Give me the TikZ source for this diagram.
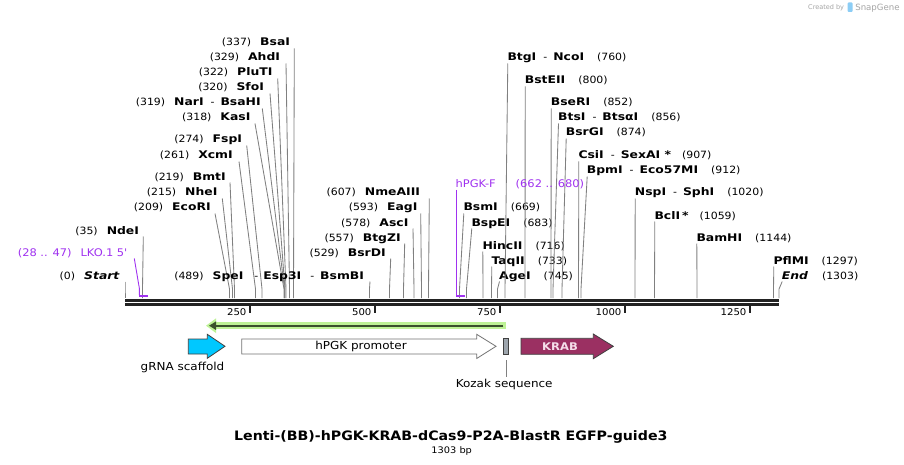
\documentclass[tikz,border=0pt]{standalone}
\usepackage{fontspec}
\setmainfont{DejaVu Sans}
\usetikzlibrary{arrows.meta}
\newfontfamily\fn[FakeStretch=1.09,Ligatures=TeXOff]{DejaVu Sans}
\newfontfamily\fb[FakeStretch=1.18,Ligatures=TeXOff]{DejaVu Sans}
\definecolor{sitegray}{RGB}{128,128,128}
\definecolor{primerpurple}{RGB}{160,50,240}
\definecolor{bbcol}{RGB}{34,34,34}
\definecolor{scaffcol}{RGB}{0,200,255}
\definecolor{krabcol}{RGB}{155,48,98}
\definecolor{krabtxt}{RGB}{245,222,234}
\definecolor{kozakcol}{RGB}{158,166,174}
\definecolor{lgreen}{RGB}{190,242,150}
\definecolor{dgreen}{RGB}{58,80,44}
\definecolor{sgtxt}{RGB}{165,165,165}
\definecolor{sglogo}{RGB}{140,205,245}
\newcommand\rpos[1]{{\fn\fontsize{10}{12}\selectfont #1}}
\newcommand\rnm[1]{{\fb\bfseries\fontsize{10.5}{12}\selectfont #1}}
\newcommand\rsep{\hspace{7pt}\rpos{-}\hspace{6pt}}
\newcommand\rgapL{\hspace{9pt}}
\newcommand\rgapR{\hspace{13pt}}
\newcommand\pp[1]{{\fn\fontsize{10.5}{12}\selectfont\color{primerpurple}#1}}
\tikzset{
  lbl/.style={inner sep=0pt, outer sep=0pt},
  siteline/.style={draw=sitegray, line width=0.85pt},
  primerline/.style={draw=primerpurple, line width=0.9pt},
  primerbar/.style={draw=primerpurple, line width=2pt},
  bbline/.style={draw=bbcol, line width=2.4pt},
  tickmark/.style={draw=bbcol, line width=1.7pt},
  feat/.style={draw=black!75, line width=0.8pt},
}
% left label: id, text end x, line top x, baseline y, site x, content
\newcommand\Lsite[6]{%
  \node[lbl,anchor=base east] (#1) at (#2,#4) {#6};
  \coordinate (#1-t) at (#3,{#4+2.5});
  \coordinate (#1-m) at (#5,289);
  \coordinate (#1-s) at (#5,298);
  \draw[siteline] (#1-t) -- (#1-m) -- (#1-s);
}
% right label: id, text start x, baseline y, site x, content
\newcommand\Rsite[5]{%
  \node[lbl,anchor=base west] (#1) at ({#2-0.8},#3) {#5};
  \coordinate (#1-t) at ({#2-0.5},{#3+2.5});
  \coordinate (#1-m) at (#4,289);
  \coordinate (#1-s) at (#4,298);
  \draw[siteline] (#1-t) -- (#1-m) -- (#1-s);
}
\begin{document}
\begin{tikzpicture}[x=1pt,y=-1pt]
\useasboundingbox (0,0) rectangle (904,465);
\fill[white] (0,0) rectangle (904,465);

% SnapGene credit
\node[lbl,anchor=base east] (cby) at (844,10) {\fontsize{6.5}{8}\selectfont\color{sgtxt}Created by};
\fill[sglogo,rounded corners=1pt] (847.5,2.5) rectangle (852.5,12);
\node[lbl,anchor=base west] (sg) at (855.3,11) {\fontsize{8.6}{10}\selectfont\color{sgtxt}SnapGene};

% backbone
\coordinate (bbL) at (125,300.3);
\coordinate (bbR) at (779,300.3);
\coordinate (bbL2) at (125,304.5);
\coordinate (bbR2) at (779,304.5);
\draw[bbline] (bbL) -- (bbR);
\draw[bbline] (bbL2) -- (bbR2);

% ticks
\foreach \t/\v in {250/250,375/500,500/750,625/1000,750/1250}{
  \coordinate (tk\v a) at (\t,305.5);
  \coordinate (tk\v b) at (\t,312.6);
  \draw[tickmark] (tk\v a) -- (tk\v b);
  \node[lbl,anchor=base east] (tl\v) at ({\t-3.6},315.7) {\fn\fontsize{9.3}{11}\selectfont \v};
}

% left-side labels
\Lsite{bsai}{290}{294.3}{46}{293.5}{\rpos{(337)}\rgapL\rnm{BsaI}}
\Lsite{ahdi}{280}{286}{61}{289.5}{\rpos{(329)}\rgapL\rnm{AhdI}}
\Lsite{pluti}{272.4}{277.7}{76}{286}{\rpos{(322)}\rgapL\rnm{PluTI}}
\Lsite{sfoi}{264}{270}{91}{285}{\rpos{(320)}\rgapL\rnm{SfoI}}
\Lsite{nari}{260.7}{262.3}{106}{284.5}{\rpos{(319)}\rgapL\rnm{NarI}\rsep\rnm{BsaHI}}
\Lsite{kasi}{250.4}{255}{121}{284}{\rpos{(318)}\rgapL\rnm{KasI}}
\Lsite{fspi}{242}{246.7}{143}{262}{\rpos{(274)}\rgapL\rnm{FspI}}
\Lsite{xcmi}{232.7}{239}{159}{255.5}{\rpos{(261)}\rgapL\rnm{XcmI}}
\Lsite{bmti}{225.7}{230}{180}{234.5}{\rpos{(219)}\rgapL\rnm{BmtI}}
\Lsite{nhei}{217.4}{222.3}{196}{232.5}{\rpos{(215)}\rgapL\rnm{NheI}}
\Lsite{ecori}{210.7}{215}{211}{229.5}{\rpos{(209)}\rgapL\rnm{EcoRI}}
\Lsite{ndei}{139}{143.3}{234}{142.5}{\rpos{(35)}\rgapL\rnm{NdeI}}
\Lsite{start}{119.4}{125}{279}{125}{\rpos{(0)}\rgapL\rnm{\itshape Start}}
\Lsite{nmeaiii}{420}{429.3}{196}{428.5}{\rpos{(607)}\rgapL\rnm{NmeAIII}}
\Lsite{eagi}{417.4}{420.7}{211}{421.5}{\rpos{(593)}\rgapL\rnm{EagI}}
\Lsite{asci}{408.4}{413}{226}{414}{\rpos{(578)}\rgapL\rnm{AscI}}
\Lsite{btgzi}{400.7}{404.7}{241}{403.5}{\rpos{(557)}\rgapL\rnm{BtgZI}}
\Lsite{bsrdi}{385.7}{390.7}{256}{389.5}{\rpos{(529)}\rgapL\rnm{BsrDI}}
\Lsite{bsmbi}{364}{370}{279}{369.5}{\rpos{(489)}\rgapL\rnm{SpeI}\hspace{11pt}\rpos{-}\hspace{5pt}\rnm{Esp3I}\hspace{9pt}\rpos{-}\hspace{6pt}\rnm{BsmBI}}

% right-side labels
\Rsite{bsmi}{464.3}{211}{459.5}{\rnm{BsmI}\rgapR\rpos{(669)}}
\Rsite{bspei}{472.3}{226}{466.5}{\rnm{BspEI}\rgapR\rpos{(683)}}
\Rsite{hincii}{483.3}{249}{483}{\rnm{HincII}\rgapR\rpos{(716)}}
\Rsite{taqii}{492.3}{264}{491.5}{\rnm{TaqII}\rgapR\rpos{(733)}}
\Rsite{agei}{500}{279}{497.5}{\rnm{AgeI}\rgapR\rpos{(745)}}
\Rsite{btgi}{508.3}{61}{505}{\rnm{BtgI}\rsep\rnm{NcoI}\rgapR\rpos{(760)}}
\Rsite{bsteii}{525.7}{84}{525}{\rnm{BstEII}\rgapR\rpos{(800)}}
\Rsite{bseri}{551.7}{106}{551}{\rnm{BseRI}\rgapR\rpos{(852)}}
\Rsite{btsi}{559}{121}{553}{\rnm{BtsI}\rsep\rnm{BtsαI}\rgapR\rpos{(856)}}
\Rsite{bsrgi}{566.7}{136}{562}{\rnm{BsrGI}\rgapR\rpos{(874)}}
\Rsite{csii}{579.3}{159}{578.5}{\rnm{CsiI}\rsep\rnm{SexAI *}\hspace{11pt}\rpos{(907)}}
\Rsite{bpmi}{587.7}{174}{581}{\rnm{BpmI}\rsep\rnm{Eco57MI}\rgapR\rpos{(912)}}
\Rsite{nspi}{635.7}{196}{635}{\rnm{NspI}\rsep\rnm{SphI}\rgapR\rpos{(1020)}}
\Rsite{bcli}{655.3}{219}{654.5}{\rnm{BclI\hspace{2pt}*}\hspace{11pt}\rpos{(1059)}}
\Rsite{bamhi}{697.3}{241}{697}{\rnm{BamHI}\rgapR\rpos{(1144)}}
\Rsite{pflmi}{774.3}{264}{773.5}{\rnm{PflMI}\rgapR\rpos{(1297)}}
\Rsite{end}{782.7}{279}{779}{\rnm{\itshape End}\hspace{14pt}\rpos{(1303)}}

% primers
\node[lbl,anchor=base east] (lko) at (127.4,256) {\pp{(28 .. 47)}\hspace{9pt}\pp{LKO.1 5'}};
\coordinate (lko-t) at (134.3,258.5);
\coordinate (lko-m) at (139.3,288);
\coordinate (lko-s) at (139.3,295);
\coordinate (lko-a) at (139,295.8);
\coordinate (lko-b) at (148.3,295.8);
\draw[primerline] (lko-t) -- (lko-m) -- (lko-s);
\draw[primerbar] (lko-a) -- (lko-b);

\node[lbl,anchor=base west] (hpgkf) at (455.7,188) {\pp{hPGK-F}\hspace{20pt}\pp{(662 .. 680)}};
\coordinate (hpgkf-t) at (456.6,190);
\coordinate (hpgkf-s) at (456.6,295);
\coordinate (hpgkf-a) at (456,295.8);
\coordinate (hpgkf-b) at (465.3,295.8);
\draw[primerline] (hpgkf-t) -- (hpgkf-s);
\draw[primerbar] (hpgkf-a) -- (hpgkf-b);

% green reverse arrow
\coordinate (gaR) at (506,325.7);
\coordinate (gaL) at (206,325.7);
\coordinate (gaR2) at (503.3,325.7);
\coordinate (gaL2) at (209,325.7);
\draw[lgreen, line width=6.5pt, -{Triangle[length=10pt,width=14pt]}] (gaR) -- (gaL);
\draw[dgreen, line width=2.3pt, -{Triangle[length=7pt,width=8pt]}] (gaR2) -- (gaL2);

% features
\draw[feat, fill=scaffcol] (188.3,339) -- (207.3,339) -- (207.3,334.3) -- (225,346.3) -- (207.3,358.3) -- (207.3,354) -- (188.3,354) -- cycle;
\node[lbl,anchor=base] (scaff) at (182.5,370.5) {\fn\fontsize{11}{13}\selectfont gRNA scaffold};

\draw[draw=black!55, line width=0.8pt, fill=white] (241.7,339) -- (476.7,339) -- (476.7,334.3) -- (496,346.3) -- (476.7,358.5) -- (476.7,354) -- (241.7,354) -- cycle;
\node[lbl,anchor=base] (prom) at (361,349.3) {\fn\fontsize{11}{13}\selectfont hPGK promoter};

\draw[feat, fill=kozakcol] (503.3,338.3) rectangle (508.7,354.3);
\coordinate (koz-t) at (506,360);
\coordinate (koz-b) at (506,376.7);
\draw[siteline, line width=0.7pt] (koz-t) -- (koz-b);
\node[lbl,anchor=base] (kozak) at (504.2,387) {\fn\fontsize{11}{13}\selectfont Kozak sequence};

\draw[feat, fill=krabcol] (521,338.3) -- (593.3,338.3) -- (593.3,334) -- (613.3,346.3) -- (593.3,358.7) -- (593.3,354.3) -- (521,354.3) -- cycle;
\node[lbl,anchor=base] (krab) at (560,350.3) {\fn\bfseries\fontsize{10.6}{12}\selectfont\color{krabtxt}KRAB};

% title
\node[lbl,anchor=base] (title) at (450.8,440) {\fn\bfseries\fontsize{13}{15}\selectfont Lenti-(BB)-hPGK-KRAB-dCas9-P2A-BlastR EGFP-guide3};
\node[lbl,anchor=base] (bp) at (451.7,453) {\fn\fontsize{9}{11}\selectfont 1303 bp};
\end{tikzpicture}
\end{document}
